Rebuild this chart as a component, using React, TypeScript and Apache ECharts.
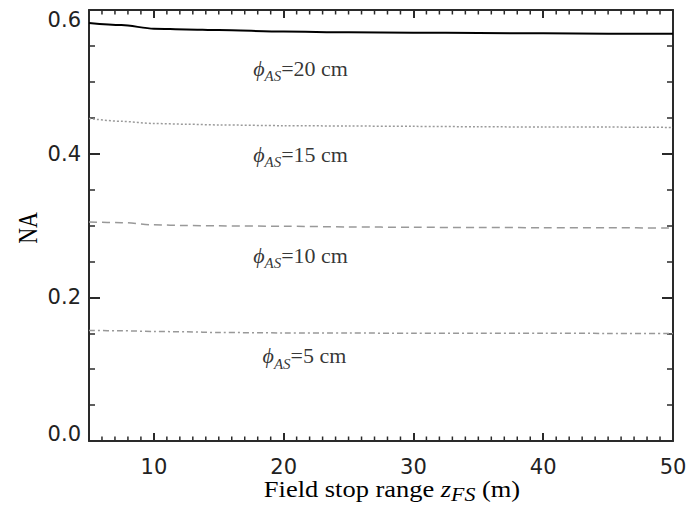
import React, { useEffect, useRef } from 'react';
import * as echarts from 'echarts';

// Field stop range z_FS (m)
const xValues = [5, 7.5, 10, 12.5, 15, 20, 25, 30, 35, 40, 45, 50];
// NA for aperture-stop diameters
const na20 = [0.582, 0.579, 0.574, 0.573, 0.572, 0.570, 0.569, 0.5685, 0.568, 0.5675, 0.567, 0.567];
const na15 = [0.449, 0.445, 0.442, 0.441, 0.440, 0.439, 0.4385, 0.438, 0.4375, 0.437, 0.437, 0.4365];
const na10 = [0.305, 0.304, 0.301, 0.300, 0.2995, 0.299, 0.298, 0.2975, 0.2972, 0.297, 0.2968, 0.2965];
const na5 = [0.154, 0.1535, 0.1525, 0.152, 0.151, 0.1505, 0.1503, 0.150, 0.150, 0.150, 0.1498, 0.1497];

const xMajorTicks = [10, 20, 30, 40, 50];
const xMinorTicks = [6, 7, 8, 9, 11, 12, 13, 14, 15, 16, 17, 18, 19, 21, 22, 23, 24, 25, 26, 27, 28, 29,
  31, 32, 33, 34, 35, 36, 37, 38, 39, 41, 42, 43, 44, 45, 46, 47, 48, 49];
const curveLabels = ['20', '15', '10', '5'];
const labelX = [21.3, 21.3, 21.3, 21.6];
const labelY = [0.519, 0.399, 0.2585, 0.119];

const AXIS = '#2a2a2a';
const SERIF = 'Liberation Serif, Times New Roman, serif';
const SANS = 'DejaVu Sans, sans-serif';

function majorX(position: 'top' | 'bottom', labels: boolean) {
  return {
    type: 'value',
    position,
    min: 5,
    max: 50,
    axisLine: { show: true, onZero: false, lineStyle: { color: AXIS, width: 2 } },
    axisTick: { show: true, inside: true, length: 8, customValues: xMajorTicks, lineStyle: { color: AXIS, width: 2 } },
    axisLabel: labels
      ? { show: true, customValues: xMajorTicks, margin: 15, fontFamily: SANS, fontSize: 21, color: '#222' }
      : { show: false },
    splitLine: { show: false },
  };
}

function yAx(position: 'left' | 'right', labels: boolean) {
  return {
    type: 'value',
    position,
    min: 0,
    max: 0.6,
    interval: 0.2,
    axisLine: { show: true, onZero: false, lineStyle: { color: AXIS, width: 2 } },
    axisTick: { show: true, inside: true, length: 11, lineStyle: { color: AXIS, width: 2 } },
    minorTick: { show: true, splitNumber: 4, length: 6, lineStyle: { color: AXIS, width: 1.5 } },
    splitLine: { show: false },
    minorSplitLine: { show: false },
    axisLabel: labels
      ? {
          show: true,
          margin: 8,
          fontFamily: SANS,
          fontSize: 21,
          color: '#222',
          formatter: (v: number) => {
            if (Math.abs(v - 0.6) < 1e-6) return '{t|0.6}';
            if (Math.abs(v) < 1e-6) return '{b|0.0}';
            return v.toFixed(1);
          },
          rich: {
            t: { fontFamily: SANS, fontSize: 21, color: '#222', padding: [19, 0, 0, 0] },
            b: { fontFamily: SANS, fontSize: 21, color: '#222', padding: [0, 0, 14, 0] },
          },
        }
      : { show: false },
  };
}

export default function App() {
  const ref = useRef<HTMLDivElement>(null);
  useEffect(() => {
    const chart = echarts.init(ref.current!, null, { renderer: 'svg' });
    const lineSeries = (data: number[], color: string, width: number, type: any) => ({
      type: 'line',
      xAxisIndex: 0,
      yAxisIndex: 0,
      data: xValues.map((x, i) => [x, data[i]]),
      showSymbol: false,
      symbol: 'none',
      smooth: 0.3,
      smoothMonotone: 'x',
      lineStyle: { color, width, type },
      silent: true,
    });
    const option: any = {
      animation: false,
      backgroundColor: '#fff',
      grid: { left: 89, right: 17, top: 10, bottom: 71, containLabel: false, outerBoundsMode: 'none' },
      xAxis: [majorX('bottom', true), majorX('top', false)],
      yAxis: [yAx('left', true), yAx('right', false)],
      series: [
        lineSeries(na20, '#000', 2, 'solid'),
        lineSeries(na15, '#9a9a9a', 1.5, [2, 2]),
        lineSeries(na10, '#999', 1.5, [8, 5]),
        lineSeries(na5, '#999', 1.5, [6, 3, 2, 3]),
        {
          // minor ticks of the bottom and top x axes, placed through the axis scale
          type: 'custom',
          xAxisIndex: 0,
          yAxisIndex: 0,
          silent: true,
          clip: false,
          data: xMinorTicks.map((v) => [v, 0]),
          encode: { x: 0, y: 1 },
          renderItem: (_params: any, api: any) => {
            const x = api.value(0);
            const b = api.coord([x, 0]);
            const t = api.coord([x, 0.6]);
            return {
              type: 'group',
              children: [
                { type: 'line', shape: { x1: b[0], y1: b[1], x2: b[0], y2: b[1] - 4.5 }, style: { stroke: AXIS, lineWidth: 1.5 } },
                { type: 'line', shape: { x1: t[0], y1: t[1], x2: t[0], y2: t[1] + 4.5 }, style: { stroke: AXIS, lineWidth: 1.5 } },
              ],
            };
          },
        },
        {
          type: 'scatter',
          xAxisIndex: 0,
          yAxisIndex: 0,
          symbolSize: 0,
          silent: true,
          data: curveLabels.map((n, i) => ({ name: n, value: [labelX[i], labelY[i]] })),
          label: {
            show: true,
            position: 'inside',
            formatter: (p: any) => `{phi|\u03D5}{sub|AS}{n|=${p.name} cm}`,
            rich: {
              phi: { fontFamily: SERIF, fontStyle: 'italic', fontSize: 22, color: '#000' },
              sub: { fontFamily: SERIF, fontStyle: 'italic', fontSize: 15, color: '#000', padding: [16, 0, 0, 0] },
              n: { fontFamily: SERIF, fontSize: 22, color: '#000' },
            },
          },
        },
      ],
      graphic: [
        {
          type: 'text',
          x: 392,
          y: 489,
          scaleX: 1.15,
          style: {
            text: 'Field stop range {z|z}{fs|FS} (m)',
            fontFamily: SERIF,
            fontSize: 23,
            fill: '#000',
            align: 'center',
            verticalAlign: 'middle',
            rich: {
              z: { fontFamily: SERIF, fontStyle: 'italic', fontSize: 23, fill: '#000' },
              fs: { fontFamily: SERIF, fontStyle: 'italic', fontSize: 19, fill: '#000', padding: [12, 0, 0, 0] },
            },
          },
        },
        {
          type: 'text',
          x: 27.5,
          y: 228,
          rotation: Math.PI / 2,
          scaleY: 1.2,
          style: {
            text: 'NA',
            fontFamily: SERIF,
            fontSize: 22,
            fill: '#000',
            align: 'center',
            verticalAlign: 'middle',
          },
        },
      ],
    };
    chart.setOption(option);
    return () => chart.dispose();
  }, []);
  return (
    <div
      ref={ref}
      style={{ position: 'absolute', left: 0, top: 0, width: 690, height: 512, background: '#fff' }}
    />
  );
}
